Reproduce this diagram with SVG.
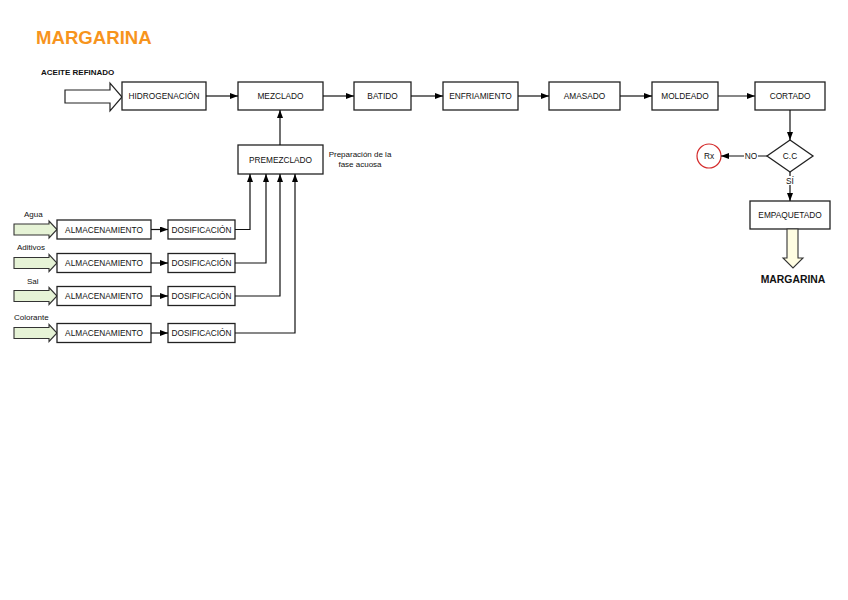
<svg xmlns="http://www.w3.org/2000/svg" width="848" height="600" viewBox="0 0 848 600">
<defs>
<marker id="ah" markerWidth="8" markerHeight="6" refX="8" refY="3" orient="auto" markerUnits="userSpaceOnUse"><path d="M0,0 L8,3 L0,6 Z" fill="#000"/></marker>
<style>
.box{fill:#fff;stroke:#222;stroke-width:1.3}
.t{font-family:"Liberation Sans",Arial,sans-serif;font-size:8.3px;fill:#111;text-anchor:middle}
.lbl{font-family:"Liberation Sans",Arial,sans-serif;font-size:8px;fill:#111}
.c{fill:none;stroke:#111;stroke-width:1.2;marker-end:url(#ah)}
.g{fill:#E6F3D6;stroke:#333;stroke-width:1.1}
</style>
</defs>
<rect width="848" height="600" fill="#fff"/>
<text x="36" y="44" font-family="Liberation Sans,Arial,sans-serif" font-size="18.6" font-weight="bold" fill="#F7941D">MARGARINA</text>
<text x="41" y="75" class="lbl" font-weight="bold" font-size="8.3">ACEITE REFINADO</text>
<polygon points="65,90 110,90 110,83 122,97 110,111 110,103 65,103" fill="#fff" stroke="#222" stroke-width="1.2"/>

<g id="hidrogenacion"><rect class="box" x="122" y="82" width="84" height="28"/><text class="t" x="164" y="99">HIDROGENACIÓN</text></g>
<g id="mezclado"><rect class="box" x="238" y="82" width="85" height="28"/><text class="t" x="280.5" y="99">MEZCLADO</text></g>
<g id="batido"><rect class="box" x="354" y="82" width="57" height="28"/><text class="t" x="382.5" y="99">BATIDO</text></g>
<g id="enfriamiento"><rect class="box" x="443" y="82" width="75" height="28"/><text class="t" x="480.5" y="99">ENFRIAMIENTO</text></g>
<g id="amasado"><rect class="box" x="549" y="82" width="71" height="28"/><text class="t" x="584.5" y="99">AMASADO</text></g>
<g id="moldeado"><rect class="box" x="652" y="82" width="66" height="28"/><text class="t" x="685" y="99">MOLDEADO</text></g>
<g id="cortado"><rect class="box" x="755" y="82" width="70" height="28"/><text class="t" x="790" y="99">CORTADO</text></g>

<g id="premezclado"><rect class="box" x="238" y="145" width="85" height="29"/><text class="t" x="280.5" y="162.5">PREMEZCLADO</text></g>
<text class="lbl" x="360" y="157" text-anchor="middle">Preparación de la</text>
<text class="lbl" x="360" y="167" text-anchor="middle">fase acuosa</text>

<g id="cc"><polygon points="790,140 813,156 790,172 767,156" fill="#fff" stroke="#222" stroke-width="1.3"/><text class="t" x="790" y="159">C.C</text></g>
<g id="rx"><circle cx="709" cy="156" r="12" fill="#fff" stroke="#D42A2A" stroke-width="1.2"/><text class="t" x="709" y="159">Rx</text></g>
<g id="empaquetado"><rect class="box" x="750" y="201" width="80" height="28"/><text class="t" x="790" y="218">EMPAQUETADO</text></g>
<polygon points="787,229 798,229 798,258 803,258 793,268 783,258 787,258" fill="#FFFDE2" stroke="#333" stroke-width="1.1"/>
<text x="793" y="283" font-family="Liberation Sans,Arial,sans-serif" font-size="10.4" font-weight="bold" text-anchor="middle" fill="#111">MARGARINA</text>

<text class="lbl" x="24" y="217">Agua</text>
<text class="lbl" x="17" y="250">Aditivos</text>
<text class="lbl" x="27" y="284">Sal</text>
<text class="lbl" x="14" y="320">Colorante</text>

<polygon class="g" points="14,224 49,224 49,221 57,229.5 49,238 49,235 14,235"/>
<polygon class="g" points="14,257.5 49,257.5 49,254.5 57,263 49,271.5 49,268.5 14,268.5"/>
<polygon class="g" points="14,290.5 49,290.5 49,287.5 57,296 49,304.5 49,301.5 14,301.5"/>
<polygon class="g" points="14,327.5 49,327.5 49,324.5 57,333 49,341.5 49,338.5 14,338.5"/>

<g id="alm1"><rect class="box" x="57" y="220" width="94" height="19"/><text class="t" x="104" y="232.5">ALMACENAMIENTO</text></g>
<g id="dos1"><rect class="box" x="168" y="220" width="67" height="19"/><text class="t" x="201.5" y="232.5">DOSIFICACIÓN</text></g>
<g id="alm2"><rect class="box" x="57" y="253.5" width="94" height="19"/><text class="t" x="104" y="266">ALMACENAMIENTO</text></g>
<g id="dos2"><rect class="box" x="168" y="253.5" width="67" height="19"/><text class="t" x="201.5" y="266">DOSIFICACIÓN</text></g>
<g id="alm3"><rect class="box" x="57" y="286.5" width="94" height="19"/><text class="t" x="104" y="299">ALMACENAMIENTO</text></g>
<g id="dos3"><rect class="box" x="168" y="286.5" width="67" height="19"/><text class="t" x="201.5" y="299">DOSIFICACIÓN</text></g>
<g id="alm4"><rect class="box" x="57" y="323.5" width="94" height="19"/><text class="t" x="104" y="336">ALMACENAMIENTO</text></g>
<g id="dos4"><rect class="box" x="168" y="323.5" width="67" height="19"/><text class="t" x="201.5" y="336">DOSIFICACIÓN</text></g>

<g id="connectors">
<line class="c" x1="206" y1="96" x2="238" y2="96"/>
<line class="c" x1="323" y1="96" x2="354" y2="96"/>
<line class="c" x1="411" y1="96" x2="443" y2="96"/>
<line class="c" x1="518" y1="96" x2="549" y2="96"/>
<line class="c" x1="620" y1="96" x2="652" y2="96"/>
<line class="c" x1="718" y1="96" x2="755" y2="96"/>
<line class="c" x1="280" y1="145" x2="280" y2="110"/>
<line class="c" x1="790" y1="110" x2="790" y2="140"/>
<line class="c" x1="767" y1="156" x2="721" y2="156"/>
<line class="c" x1="790" y1="172" x2="790" y2="201"/>
<line class="c" x1="151" y1="229.5" x2="168" y2="229.5"/>
<line class="c" x1="151" y1="263" x2="168" y2="263"/>
<line class="c" x1="151" y1="296" x2="168" y2="296"/>
<line class="c" x1="151" y1="333" x2="168" y2="333"/>
<polyline class="c" points="235,229.5 250,229.5 250,174"/>
<polyline class="c" points="235,263 266,263 266,174"/>
<polyline class="c" points="235,296 280,296 280,174"/>
<polyline class="c" points="235,333 295,333 295,174"/>
<rect x="744" y="151" width="14" height="9" fill="#fff"/>
<text class="t" x="751" y="159">NO</text>
<rect x="785" y="176" width="10" height="9" fill="#fff"/>
<text class="t" x="790" y="184">SÍ</text>
</g>
</svg>
